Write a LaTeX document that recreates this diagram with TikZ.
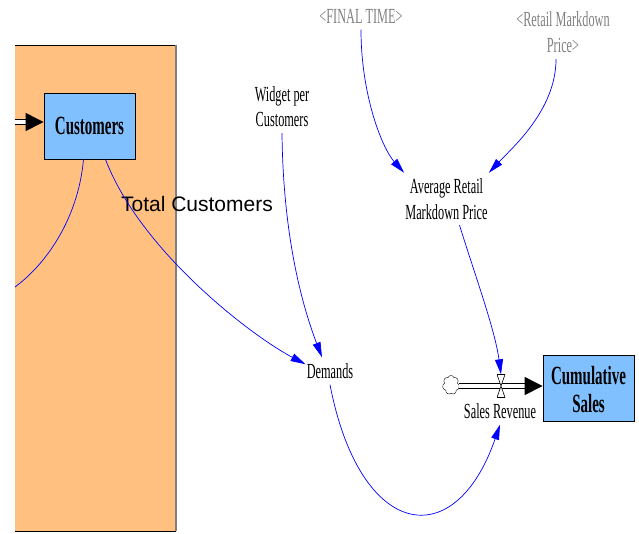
\documentclass[tikz,border=0pt]{standalone}
\usepackage{fontspec}
\setmainfont{Liberation Serif}
\newfontfamily\arialfam{Liberation Sans}
\usetikzlibrary{arrows.meta,shapes.symbols}
\newcommand{\vlabel}[2][2pt]{\raisebox{-#1}[\height][\depth]{\scalebox{1}[1.75]{\begin{tabular}{@{}c@{}}#2\end{tabular}}}}
\definecolor{sectorfill}{RGB}{255,192,128}
\definecolor{stockfill}{RGB}{128,192,255}
\definecolor{shadowgray}{RGB}{128,128,128}

\begin{document}
\begin{tikzpicture}[x=1pt, y=-1pt,
    varname/.style={inner sep=1pt, font=\fontsize{12.3}{14.3}\selectfont},
    ghostvar/.style={varname, text=shadowgray},
    stock/.style={draw, fill=stockfill, line width=0.8pt, minimum width=91pt, minimum height=66pt, inner sep=0pt, font=\fontsize{15}{16}\selectfont\bfseries},
    link/.style={->, >={Triangle[length=15pt,width=8pt]}, blue, line width=0.7pt},
    pipe/.style={-{Triangle[length=18pt,width=18pt]}, double, double distance=3.5pt, line width=1pt},
    valve/.style={minimum width=8pt, minimum height=23pt, inner sep=0pt,
      path picture={\filldraw[fill=white, line width=0.6pt] (path picture bounding box.north west) -- (path picture bounding box.north east) -- (path picture bounding box.south west) -- (path picture bounding box.south east) -- cycle;}}]
    \useasboundingbox (0,0) rectangle (639,533);
    \fill[sectorfill] (15,45) rectangle (176,531);
    \draw[line width=0.8pt] (15,45) -- (176,45);
    \draw[shadowgray, line width=1.5pt] (176,45) -- (176,531);
    \draw[line width=0.8pt] (15,531) -- (176,531);
    \node (customers) at (89.5,126) [stock] {\vlabel[3pt]{Customers}};
    \node (cumsales) at (588.5,388.5) [stock] {\vlabel[4.5pt]{Cumulative\\Sales}};
    \node (fin) at (361,16) [ghostvar] {\vlabel{<FINAL TIME>}};
    \node (rmp) at (563,33) [ghostvar] {\vlabel[1.5pt]{<Retail Markdown\\Price>}};
    \node (widget) at (282,107) [varname] {\vlabel{Widget per\\Customers}};
    \node (avg) at (446.5,199) [varname] {\vlabel[2.5pt]{Average Retail\\Markdown Price}};
    \node (demands) at (330,371) [varname] {\vlabel{Demands}};
    \node (cloud) at (451,385) [draw, cloud, cloud puffs=7, cloud puff arc=140, aspect=0.85, minimum width=17pt, minimum height=19pt, inner sep=0pt, fill=white] {};
    \coordinate (custsrc) at (15,122);
    \coordinate (edgeL) at (15,287);
    \draw[pipe] (custsrc) -- (custsrc -| customers.west);
    \draw[pipe] (cloud.east |- 0,386) -- (cloud.east |- 0,386 -| cumsales.west);
    \node (valve) at (501,386) [valve] {};
    \node (salesrev) at (500,411) [varname] {\vlabel{Sales Revenue}};
    \node (totalcust) at (197,204) [font=\arialfam\fontsize{21}{25}\selectfont, inner sep=0pt] {Total Customers};
    \draw[link] (fin.south) .. controls (361,95) and (382,148) .. (avg.north west);
    \draw[link] ([xshift=-7pt]rmp.south) .. controls (556,110) and (512,148) .. (avg.north east);
    \draw[link] ([xshift=13pt]avg.south) .. controls (475,275) and (495,330) .. (valve.north);
    \draw[link] (widget.south) .. controls (283,230) and (300,300) .. ([xshift=-8pt]demands.north);
    \draw[link] ([xshift=16pt]customers.south) .. controls (140,250) and (250,335) .. ([yshift=-7pt]demands.north west);
    \draw[blue, line width=0.7pt] ([xshift=-6pt]customers.south) .. controls (78,220) and (45,265) .. (edgeL);
    \draw[link] (demands.south) .. controls (360,540) and (455,555) .. (salesrev.south);
\end{tikzpicture}
\end{document}
